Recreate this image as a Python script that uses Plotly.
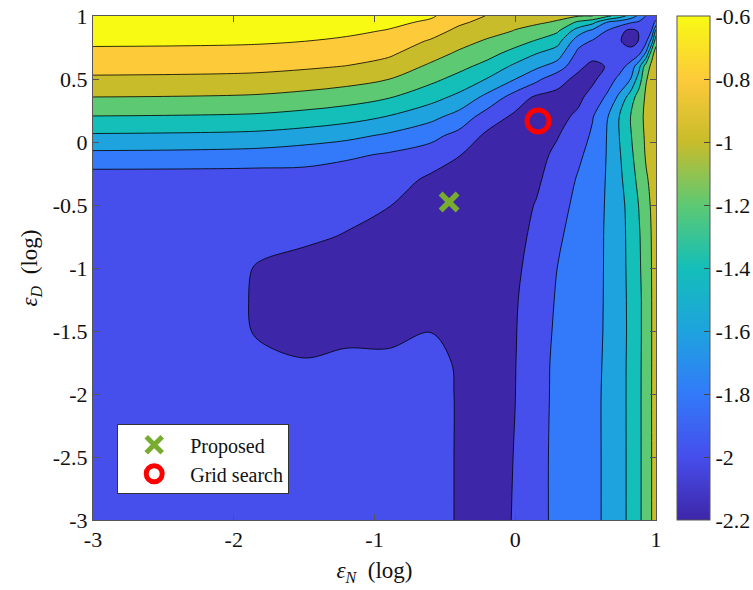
import plotly.graph_objects as go

# grid axes (log10 of the two parameters)
eps_n = [-3.0, -2.5, -2.0, -1.8, -1.5, -1.2, -0.9, -0.6, -0.4, -0.2, 0.0,
         0.15, 0.3, 0.45, 0.55, 0.65, 0.74, 0.82, 0.88, 0.93, 0.97, 1.0]
eps_d = [-3.0, -2.5, -2.0, -1.75, -1.5, -1.25, -1.0, -0.75, -0.5, -0.3, -0.1,
         0.05, 0.2, 0.35, 0.5, 0.6, 0.7, 0.8, 0.88, 0.95, 1.0]

# cost surface, one row per eps_d value (bottom to top)
cost = [
    [-1.93, -1.93, -1.93, -1.93, -1.93, -1.93, -1.93, -1.93, -2.015, -2.06, -1.99, -1.88, -1.74, -1.67, -1.63, -1.58, -1.462, -1.358, -1.236, -1.11, -0.997, -0.92],
    [-1.93, -1.93, -1.93, -1.93, -1.93, -1.93, -1.93, -1.93, -2.015, -2.06, -1.995, -1.88, -1.74, -1.67, -1.63, -1.58, -1.462, -1.358, -1.236, -1.11, -0.997, -0.92],
    [-1.93, -1.93, -1.93, -1.93, -1.94, -1.935, -1.935, -1.93, -2.015, -2.06, -2.001, -1.89, -1.745, -1.67, -1.63, -1.58, -1.462, -1.357, -1.235, -1.11, -0.996, -0.92],
    [-1.93, -1.93, -1.935, -1.95, -1.99, -1.95, -1.96, -1.945, -2.02, -2.06, -2.004, -1.89, -1.75, -1.675, -1.635, -1.582, -1.463, -1.358, -1.237, -1.112, -0.998, -0.92],
    [-1.93, -1.93, -1.95, -2.03, -2.06, -2.06, -2.05, -2.003, -2.05, -2.07, -2.008, -1.9, -1.765, -1.68, -1.64, -1.585, -1.466, -1.362, -1.24, -1.115, -0.998, -0.92],
    [-1.93, -1.935, -1.955, -2.04, -2.08, -2.08, -2.08, -2.06, -2.07, -2.08, -2.015, -1.91, -1.78, -1.69, -1.645, -1.585, -1.465, -1.36, -1.24, -1.115, -0.998, -0.92],
    [-1.93, -1.935, -1.96, -2.02, -2.06, -2.08, -2.08, -2.08, -2.08, -2.09, -2.03, -1.935, -1.798, -1.70, -1.65, -1.585, -1.466, -1.352, -1.227, -1.10, -0.995, -0.92],
    [-1.93, -1.93, -1.93, -1.94, -1.97, -2.01, -2.06, -2.08, -2.09, -2.1, -2.05, -1.96, -1.83, -1.72, -1.66, -1.583, -1.466, -1.346, -1.217, -1.091, -0.99, -0.92],
    [-1.93, -1.93, -1.93, -1.93, -1.93, -1.95, -1.995, -2.06, -2.08, -2.1, -2.07, -1.99, -1.87, -1.75, -1.68, -1.584, -1.464, -1.33, -1.19, -1.063, -0.975, -0.92],
    [-1.91, -1.91, -1.91, -1.91, -1.89, -1.92, -1.9, -2.04, -2.05, -2.08, -2.08, -2.03, -1.91, -1.78, -1.70, -1.588, -1.443, -1.284, -1.145, -1.02, -0.96, -0.92],
    [-1.647, -1.652, -1.665, -1.676, -1.712, -1.763, -1.821, -1.885, -1.995, -2.06, -2.08, -2.06, -1.96, -1.83, -1.74, -1.594, -1.419, -1.241, -1.099, -0.98, -0.95, -0.92],
    [-1.425, -1.431, -1.443, -1.455, -1.492, -1.545, -1.633, -1.747, -1.859, -2.04, -2.07, -2.08, -2.01, -1.89, -1.77, -1.596, -1.398, -1.214, -1.071, -0.97, -0.94, -0.92],
    [-1.209, -1.215, -1.226, -1.237, -1.273, -1.324, -1.410, -1.543, -1.677, -1.893, -2.04, -2.08, -2.06, -1.96, -1.81, -1.624, -1.395, -1.198, -1.054, -0.96, -0.93, -0.92],
    [-1.009, -1.014, -1.025, -1.036, -1.069, -1.115, -1.195, -1.335, -1.457, -1.665, -1.9, -2.04, -2.06, -2.04, -1.92, -1.768, -1.548, -1.29, -1.10, -0.97, -0.93, -0.92],
    [-0.829, -0.834, -0.843, -0.853, -0.883, -0.925, -0.996, -1.149, -1.2625, -1.408, -1.598, -1.751, -1.93, -2.05, -2.04, -1.904, -1.752, -1.598, -1.3, -1.01, -0.95, -0.92],
    [-0.734, -0.737, -0.744, -0.751, -0.773, -0.805, -0.877, -1.034, -1.144, -1.263, -1.442, -1.563, -1.686, -1.961, -2.05, -1.99, -1.875, -1.727, -1.457, -1.08, -0.96, -0.93],
    [-0.647, -0.650, -0.657, -0.664, -0.686, -0.716, -0.769, -0.926, -1.033, -1.136, -1.276, -1.4, -1.508, -1.863, -1.934, -1.965, -1.95, -1.92, -1.83, -1.55, -1.05, -0.93],
    [-0.566, -0.569, -0.575, -0.581, -0.599, -0.629, -0.682, -0.821, -0.93, -1.023, -1.123, -1.218, -1.332, -1.723, -1.818, -1.93, -1.985, -2.07, -1.99, -1.84, -1.5, -1.05],
    [-0.508, -0.511, -0.517, -0.522, -0.541, -0.566, -0.612, -0.72, -0.85, -0.933, -1.01, -1.083, -1.178, -1.513, -1.661, -1.81, -1.94, -2.06, -1.985, -1.89, -1.79, -1.32],
    [-0.457, -0.460, -0.465, -0.471, -0.489, -0.515, -0.559, -0.627, -0.767, -0.856, -0.95, -0.97, -1.022, -1.24, -1.343, -1.6, -1.7, -1.78, -1.83, -1.86, -1.88, -1.75],
    [-0.42, -0.423, -0.429, -0.435, -0.453, -0.478, -0.522, -0.58, -0.685, -0.81, -0.91, -0.93, -0.95, -0.99, -1.0, -1.15, -1.3, -1.48, -1.65, -1.81, -1.88, -1.9],
]

proposed_n = [-0.47]
proposed_d = [-0.476]
grid_n = [0.162]
grid_d = [0.167]

cbar_ticks = [-2.2, -2.0, -1.8, -1.6, -1.4, -1.2, -1.0, -0.8, -0.6]
cbar_text = ['-2.2', '-2', '-1.8', '-1.6', '-1.4', '-1.2', '-1', '-0.8', '-0.6']
x_ticks = [-3, -2, -1, 0, 1]
x_text = ['-3', '-2', '-1', '0', '1']
y_ticks = [-3, -2.5, -2, -1.5, -1, -0.5, 0, 0.5, 1]
y_text = ['-3', '-2.5', '-2', '-1.5', '-1', '-0.5', '0', '0.5', '1']

# parula-like colours, one per filled band
band_colors = ['#3e26a8', '#464eec', '#327af9', '#1ea3de', '#14beb9',
               '#5dc973', '#c8bc2b', '#fdca3a', '#f8fa14']

n = len(band_colors) - 1
steps = []
for i, c in enumerate(band_colors):
    steps.append([max(0.0, (i - 0.5) / n), c])
    steps.append([min(1.0, (i + 0.5) / n), c])
smooth = [[i / n, c] for i, c in enumerate(band_colors)]

serif = '"Liberation Serif", "DejaVu Serif", serif'
ink = '#111'

fig = go.Figure()
fig.add_trace(go.Contour(
    x=eps_n, y=eps_d, z=cost,
    autocontour=False,
    contours=dict(start=-2.0, end=-0.6, size=0.2, coloring='fill'),
    colorscale=steps,
    line=dict(color='black', width=0.8, smoothing=1.0),
    showscale=False, hoverinfo='skip', showlegend=False,
))

# continuous colour bar like the MATLAB one
fig.add_trace(go.Scatter(
    x=grid_n, y=grid_d, mode='markers', showlegend=False, hoverinfo='skip',
    marker=dict(size=1, opacity=0, color=[-2.2], cmin=-2.2, cmax=-0.6,
                colorscale=smooth, showscale=True,
                colorbar=dict(x=1.0373, xanchor='left', xpad=0,
                              y=0.5, yanchor='middle', ypad=0,
                              len=1, lenmode='fraction', thickness=33,
                              tickvals=cbar_ticks, ticktext=cbar_text,
                              ticks='inside', ticklen=6, tickcolor='#444',
                              ticklabeloverflow='allow',
                              outlinecolor='#555', outlinewidth=1,
                              tickfont=dict(family=serif, size=22, color=ink))),
))

fig.add_trace(go.Scatter(
    x=proposed_n, y=proposed_d, mode='markers', name='Proposed',
    marker=dict(symbol='x-thin', size=17, color='#77ac30',
                line=dict(color='#77ac30', width=5.5)),
))
fig.add_trace(go.Scatter(
    x=grid_n, y=grid_d, mode='markers', name='Grid search',
    marker=dict(symbol='circle-open', size=22, color='#ff0000',
                line=dict(color='#ff0000', width=5)),
))

axis_common = dict(
    range=[-3, 1], showgrid=False, zeroline=False,
    showline=True, linecolor='#555', linewidth=1, mirror='ticks',
    ticks='inside', ticklen=6, tickcolor='#555',
    ticklabeloverflow='allow',
    tickfont=dict(family=serif, size=22, color=ink),
)

fig.update_layout(
    width=753, height=590,
    margin=dict(l=93, r=97, t=16, b=70, autoexpand=False),
    paper_bgcolor='white', plot_bgcolor='white',
    font=dict(family=serif, size=22, color=ink),
    xaxis=dict(axis_common, tickvals=x_ticks, ticktext=x_text,
               title=dict(text='<i>ε</i><sub><i>N</i></sub>  (log)',
                          font=dict(family=serif, size=23, color=ink), standoff=10)),
    yaxis=dict(axis_common, tickvals=y_ticks, ticktext=y_text,
               title=dict(text='<i>ε</i><sub><i>D</i></sub>  (log)',
                          font=dict(family=serif, size=23, color=ink), standoff=8)),
    legend=dict(x=0.043, y=0.19, xanchor='left', yanchor='top',
                bgcolor='white', bordercolor='#333', borderwidth=1,
                font=dict(family=serif, size=20, color=ink),
                itemwidth=62, tracegroupgap=0),
)

# drop the browser's default page margin so the figure fills the window
fig.write_html("out.html",
               config={'displayModeBar': False},
               post_script="document.body.style.margin='0';"
                           "document.body.style.overflow='hidden';")
